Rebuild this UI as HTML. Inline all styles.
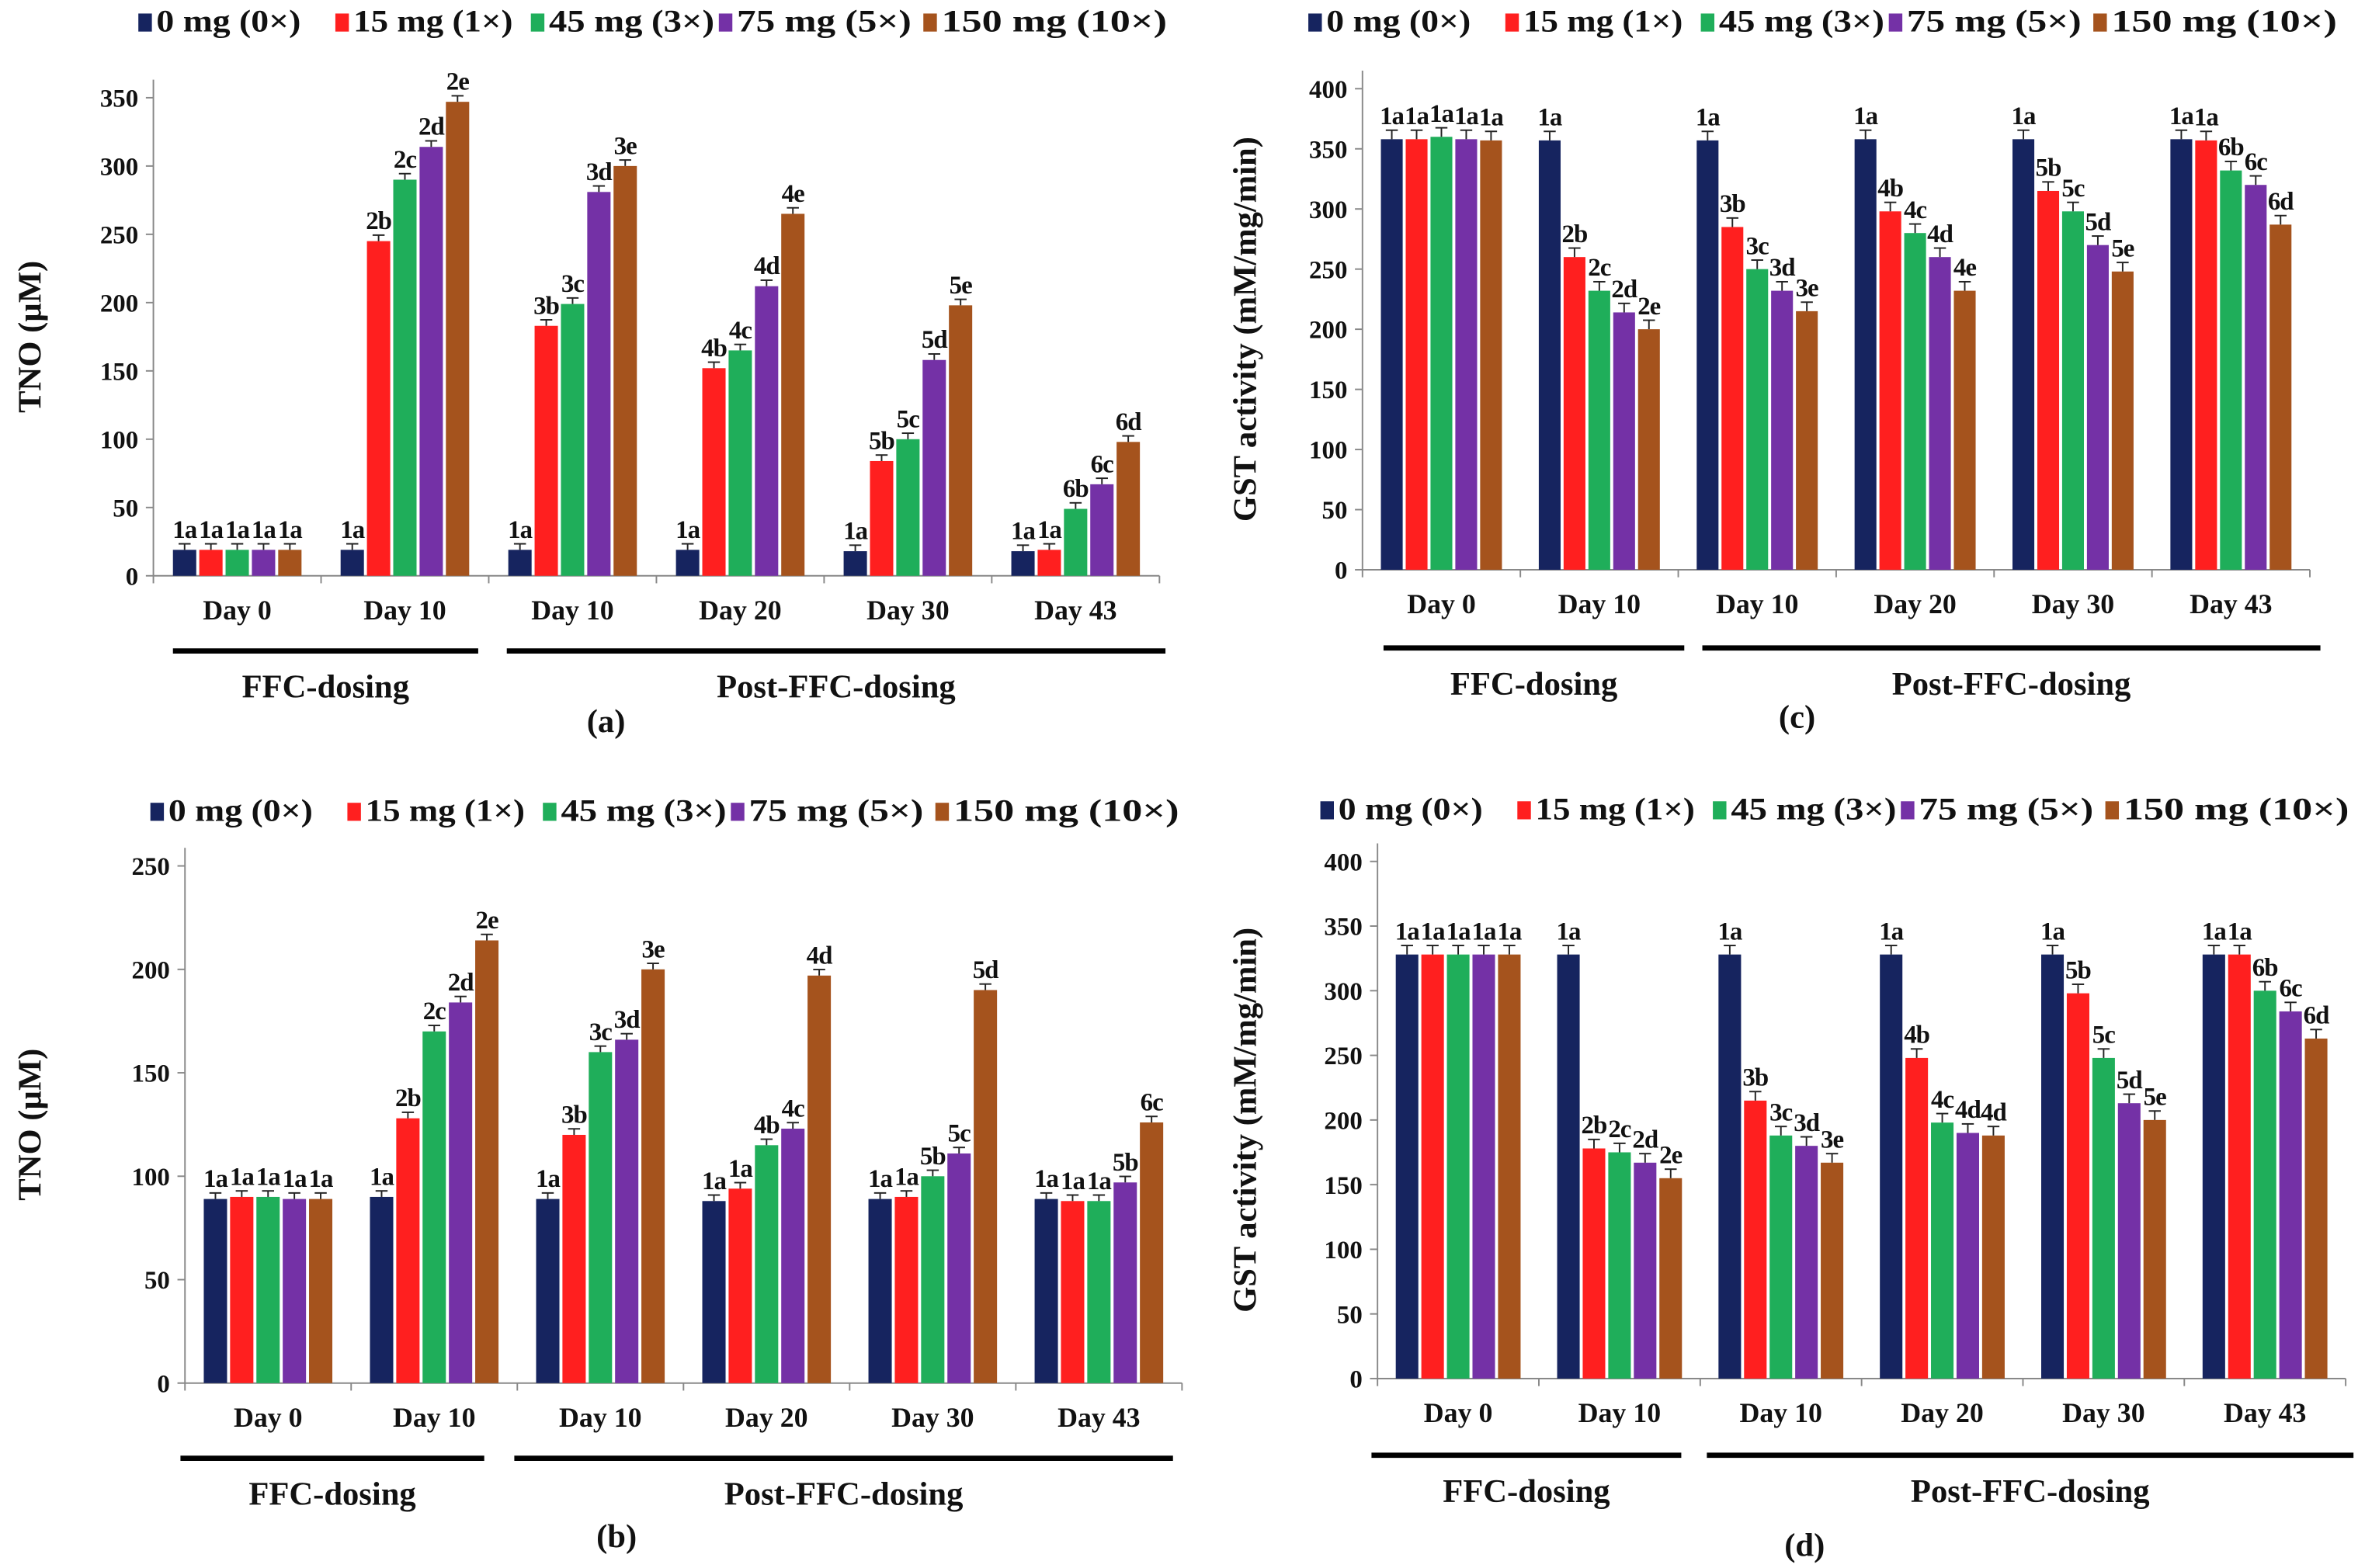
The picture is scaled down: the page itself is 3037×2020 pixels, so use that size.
<!DOCTYPE html>
<html><head><meta charset="utf-8"><style>
html,body{margin:0;padding:0;background:#fff;width:3037px;height:2020px;overflow:hidden}
svg{display:block}
text{font-family:"Liberation Serif",serif;font-weight:bold;fill:#111}
</style></head><body>
<svg id="fig" width="3037" height="2020" viewBox="0 0 1568 1043" preserveAspectRatio="none" xmlns="http://www.w3.org/2000/svg"></svg>
<script>
const seriesNames=["0 mg (0×)","15 mg (1×)","45 mg (3×)","75 mg (5×)","150 mg (10×)"];
const colors=["#16245f","#ff1f1f","#1fae5a","#7431a6","#a5531d"];
const days=["Day 0","Day 10","Day 10","Day 20","Day 30","Day 43"];
const aVals=[[19,19,19,19,19],[19,245,290,314,347],[19,183,199,281,300],[19,152,165,212,265],[18,84,100,158,198],[18,19,49,67,98]];
const aLbl=[["1a","1a","1a","1a","1a"],["1a","2b","2c","2d","2e"],["1a","3b","3c","3d","3e"],["1a","4b","4c","4d","4e"],["1a","5b","5c","5d","5e"],["1a","1a","6b","6c","6d"]];
const aTicks=[0,50,100,150,200,250,300,350];
const bVals=[[89,90,90,89,89],[90,128,170,184,214],[89,120,160,166,200],[88,94,115,123,197],[89,90,100,111,190],[89,88,88,97,126]];
const bLbl=[["1a","1a","1a","1a","1a"],["1a","2b","2c","2d","2e"],["1a","3b","3c","3d","3e"],["1a","1a","4b","4c","4d"],["1a","1a","5b","5c","5d"],["1a","1a","1a","5b","6c"]];
const bTicks=[0,50,100,150,200,250];
const cVals=[[358,358,360,358,357],[357,260,232,214,200],[357,285,250,232,215],[358,298,280,260,232],[358,315,298,270,248],[358,357,332,320,287]];
const cLbl=[["1a","1a","1a","1a","1a"],["1a","2b","2c","2d","2e"],["1a","3b","3c","3d","3e"],["1a","4b","4c","4d","4e"],["1a","5b","5c","5d","5e"],["1a","1a","6b","6c","6d"]];
const cTicks=[0,50,100,150,200,250,300,350,400];
const dVals=[[328,328,328,328,328],[328,178,175,167,155],[328,215,188,180,167],[328,248,198,190,188],[328,298,248,213,200],[328,328,300,284,263]];
const dLbl=[["1a","1a","1a","1a","1a"],["1a","2b","2c","2d","2e"],["1a","3b","3c","3d","3e"],["1a","4b","4c","4d","4d"],["1a","5b","5c","5d","5e"],["1a","1a","6b","6c","6d"]];
const dTicks=[0,50,100,150,200,250,300,350,400];

const NS="http://www.w3.org/2000/svg";
const svg=document.getElementById('fig');
function mk(tag,attrs,parent,txt){const e=document.createElementNS(NS,tag);for(const k in attrs)e.setAttribute(k,attrs[k]);if(txt!==undefined)e.textContent=txt;(parent||svg).appendChild(e);return e;}
const legOff=[0,131,261,386,522];
const legW=[96,106,110,116,150];

function panel(p){
  const g=mk('g',{});
  
  
  const max=p.ticks[p.ticks.length-1];
  const yS=v=>p.y0-(v/max)*(p.y0-p.yTop);
  const xS=(gi,si)=>p.x0+p.gap*(gi+0.5)+(si-2)*p.bw;
  seriesNames.forEach((n,i)=>{
    const lx=p.lx+legOff[i];
    const r=mk('rect',{x:lx,y:p.ly-12,width:9,height:12,fill:colors[i]},g);
    
    
    const t=mk('text',{x:lx+12,y:p.ly,'font-size':21,textLength:legW[i],lengthAdjust:'spacingAndGlyphs'},g,n);
    
    
  });
  const ax=mk('line',{x1:p.x0,y1:p.yTop-12,x2:p.x0,y2:p.y0,stroke:'#888','stroke-width':1},g);
  
  const xx=mk('line',{x1:p.x0,y1:p.y0,x2:p.x0+p.gap*6,y2:p.y0,stroke:'#888','stroke-width':1},g);
  
  p.ticks.forEach(t=>{
    const y=yS(t);
    mk('line',{x1:p.x0-5,y1:y,x2:p.x0,y2:y,stroke:'#888'},g);
    const tt=mk('text',{x:p.x0-10,y:y+6,'font-size':17,'text-anchor':'end'},g,String(t));
    
  });
  for(let i=0;i<=6;i++) mk('line',{x1:p.x0+p.gap*i,y1:p.y0,x2:p.x0+p.gap*i,y2:p.y0+5,stroke:'#888'},g);
  const yt=mk('text',{x:0,y:0,'font-size':22,'text-anchor':'middle',transform:`translate(${p.ytx},${(p.y0+p.yTop)/2}) rotate(-90)`},g,p.ytitle);
  
  p.vals.forEach((grp,gi)=>{
    grp.forEach((v,si)=>{
      const x=xS(gi,si), y=yS(v);
      const b=mk('rect',{x:x-p.bw/2+1,y:y,width:p.bw-2,height:p.y0-y,fill:colors[si]},g);
      
      
      const e=p.err;
      mk('line',{x1:x,y1:y-e,x2:x,y2:y,stroke:'#222','stroke-width':1},g);
      mk('line',{x1:x-4,y1:y-e,x2:x+4,y2:y-e,stroke:'#222','stroke-width':1},g);
      const l=mk('text',{x:x,y:y-e-4,'font-size':17,'text-anchor':'middle','letter-spacing':'-0.5'},g,p.lbl[gi][si]);
      
    });
    const dl=mk('text',{x:p.x0+p.gap*(gi+0.5),y:p.y0+29,'font-size':18.5,'text-anchor':'middle'},g,days[gi]);
    
  });
  const l1=mk('line',{x1:p.b1[0],y1:p.by,x2:p.b1[1],y2:p.by,stroke:'#000','stroke-width':3.5},g);
  
  const l2=mk('line',{x1:p.b2[0],y1:p.by,x2:p.b2[1],y2:p.by,stroke:'#000','stroke-width':3.5},g);
  
  const t1=mk('text',{x:(p.b1[0]+p.b1[1])/2,y:p.by+31,'font-size':22,'text-anchor':'middle'},g,'FFC-dosing');
  
  const t2=mk('text',{x:(p.b2[0]+p.b2[1])/2,y:p.by+31,'font-size':22,'text-anchor':'middle'},g,'Post-FFC-dosing');
  
  const cap=mk('text',{x:p.cx,y:p.cy,'font-size':22,'text-anchor':'middle'},g,'('+p.id+')');
  
}
panel({id:'a',vals:aVals,lbl:aLbl,ticks:aTicks,x0:102,y0:383,yTop:65,gap:111.5,bw:17.5,err:4,lx:92,ly:21,ytitle:'TNO (µM)',ytx:27,by:433,b1:[115,318],b2:[337,775],cx:403,cy:487});
panel({id:'b',vals:bVals,lbl:bLbl,ticks:bTicks,x0:123,y0:920,yTop:576,gap:110.5,bw:17.5,err:4,lx:100,ly:546,ytitle:'TNO (µM)',ytx:27,by:970,b1:[120,322],b2:[342,780],cx:410,cy:1029});
panel({id:'c',vals:cVals,lbl:cLbl,ticks:cTicks,x0:906,y0:379,yTop:59,gap:105,bw:16.5,err:6,lx:870,ly:21,ytitle:'GST activity (mM/mg/min)',ytx:835,by:431,b1:[920,1120],b2:[1132,1543],cx:1195,cy:484});
panel({id:'d',vals:dVals,lbl:dLbl,ticks:dTicks,x0:916,y0:917,yTop:573,gap:107.3,bw:17,err:6,lx:878,ly:545,ytitle:'GST activity (mM/mg/min)',ytx:835,by:968,b1:[912,1118],b2:[1135,1565],cx:1200,cy:1035});
</script>
</body></html>
